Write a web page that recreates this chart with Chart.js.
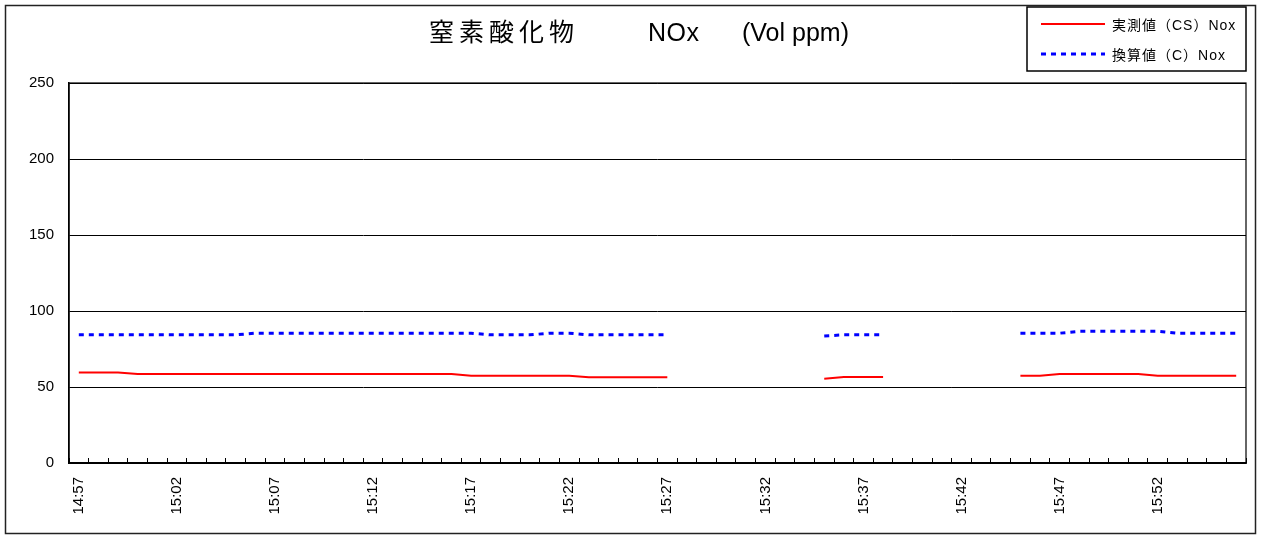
<!DOCTYPE html>
<html>
<head>
<meta charset="utf-8">
<script src="https://cdn.jsdelivr.net/npm/chart.js@4/dist/chart.umd.min.js"></script>
<style>
  html, body { margin: 0; padding: 0; background: #fff; }
  #grafico { display: block; }
</style>
</head>
<body>
<canvas id="grafico" width="1261" height="536"></canvas>
<script>
// 時刻 (1分毎)
const horarios = [
  '14:57','14:58','14:59','15:00','15:01','15:02','15:03','15:04','15:05','15:06',
  '15:07','15:08','15:09','15:10','15:11','15:12','15:13','15:14','15:15','15:16',
  '15:17','15:18','15:19','15:20','15:21','15:22','15:23','15:24','15:25','15:26',
  '15:27','15:28','15:29','15:30','15:31','15:32','15:33','15:34','15:35','15:36',
  '15:37','15:38','15:39','15:40','15:41','15:42','15:43','15:44','15:45','15:46',
  '15:47','15:48','15:49','15:50','15:51','15:52','15:53','15:54','15:55','15:56'
];

// 実測値(CS)Nox
const medido = [
  59.5, 59.5, 59.5, 58.5, 58.5, 58.5, 58.5, 58.5, 58.5, 58.5,
  58.5, 58.5, 58.5, 58.5, 58.5, 58.5, 58.5, 58.5, 58.5, 58.5,
  57.4, 57.4, 57.4, 57.4, 57.4, 57.4, 56.4, 56.4, 56.4, 56.4,
  56.4, null, null, null, null, null, null, null, 55.4, 56.5,
  56.5, 56.5, null, null, null, null, null, null, 57.4, 57.4,
  58.5, 58.5, 58.5, 58.5, 58.5, 57.4, 57.4, 57.4, 57.4, 57.4
];

// 換算値(C)Nox
const convertido = [
  84.3, 84.3, 84.3, 84.3, 84.3, 84.3, 84.3, 84.3, 84.3, 85.4,
  85.4, 85.4, 85.4, 85.4, 85.4, 85.4, 85.4, 85.4, 85.4, 85.4,
  85.4, 84.3, 84.3, 84.3, 85.4, 85.4, 84.3, 84.3, 84.3, 84.3,
  84.3, null, null, null, null, null, null, null, 83.6, 84.3,
  84.3, 84.3, null, null, null, null, null, null, 85.4, 85.4,
  85.4, 86.6, 86.6, 86.6, 86.6, 86.6, 85.4, 85.4, 85.4, 85.4
];

const ticksY = [0, 50, 100, 150, 200, 250];

// タイトル (3つに分けて描く)
const tituloPartes = [
  { texto: '窒素酸化物', x: 429, espaco: '5px' },
  { texto: 'NOx', x: 648, espaco: '0.5px' },
  { texto: '(Vol ppm)', x: 742, espaco: '0px' }
];
const fonte = '"Liberation Sans", Arial, "Noto Sans CJK JP", sans-serif';

// 枠・タイトル・凡例
const moldura = {
  id: 'moldura',
  afterDraw(chart) {
    const ctx = chart.ctx;
    const area = chart.chartArea;
    ctx.save();

    // 外枠
    ctx.strokeStyle = '#222';
    ctx.lineWidth = 1.5;
    ctx.strokeRect(5.5, 5.5, chart.width - 11, chart.height - 8);

    // プロットエリア枠
    ctx.strokeStyle = '#000';
    ctx.lineWidth = 1.2;
    ctx.strokeRect(area.left, area.top, area.right - area.left, area.bottom - area.top);

    // タイトル
    ctx.fillStyle = '#000';
    ctx.font = '25px ' + fonte;
    ctx.textAlign = 'left';
    ctx.textBaseline = 'middle';
    tituloPartes.forEach(p => {
      ctx.letterSpacing = p.espaco;
      ctx.fillText(p.texto, p.x, 34);
    });

    // 凡例
    const bx = area.right - 219, by = 7, bw = 219, bh = 64;
    ctx.fillStyle = '#fff';
    ctx.fillRect(bx, by, bw, bh);
    ctx.strokeStyle = '#000';
    ctx.lineWidth = 1.5;
    ctx.strokeRect(bx, by, bw, bh);

    ctx.font = '14px ' + fonte;
    ctx.letterSpacing = '1px';
    chart.data.datasets.forEach((ds, i) => {
      const y = by + 17 + i * 30;
      ctx.beginPath();
      ctx.strokeStyle = ds.borderColor;
      ctx.lineWidth = ds.borderWidth;
      ctx.setLineDash(ds.borderDash || []);
      ctx.moveTo(bx + 14, y);
      ctx.lineTo(bx + 78, y);
      ctx.stroke();
      ctx.setLineDash([]);
      ctx.fillStyle = '#000';
      ctx.fillText(ds.label, bx + 85, y + 2);
    });
    ctx.restore();
  }
};

const ctx = document.getElementById('grafico').getContext('2d');

new Chart(ctx, {
  type: 'line',
  data: {
    labels: horarios,
    datasets: [
      {
        label: '実測値（CS）Nox',
        data: medido,
        borderColor: '#ff0000',
        borderWidth: 2,
        pointRadius: 0,
        tension: 0,
        spanGaps: false
      },
      {
        label: '換算値（C）Nox',
        data: convertido,
        borderColor: '#0000ff',
        borderWidth: 3,
        borderDash: [5, 5],
        pointRadius: 0,
        tension: 0,
        spanGaps: false
      }
    ]
  },
  options: {
    responsive: false,
    animation: false,
    devicePixelRatio: 1,
    layout: {
      padding: { left: 6, top: 83, right: 15, bottom: 13 }
    },
    plugins: {
      legend: { display: false },
      title: { display: false },
      tooltip: { enabled: false }
    },
    scales: {
      x: {
        type: 'category',
        offset: true,
        grid: {
          offset: true,
          drawOnChartArea: false,
          drawTicks: true,
          tickLength: -5,
          tickColor: '#000',
          tickWidth: 1
        },
        border: { display: true, color: '#000', width: 1.5 },
        ticks: {
          autoSkip: false,
          maxRotation: 90,
          minRotation: 90,
          padding: 19,
          color: '#000',
          font: { family: fonte, size: 15 },
          callback: (v, i) => (i % 5 === 0 ? horarios[i] : '')
        },
        afterFit: (scale) => {
          scale.height = 60;
          scale.paddingLeft = 0;
          scale.paddingRight = 0;
        }
      },
      y: {
        min: ticksY[0],
        max: ticksY[ticksY.length - 1],
        afterBuildTicks: (scale) => { scale.ticks = ticksY.map(v => ({ value: v })); },
        grid: {
          color: '#000',
          lineWidth: 1,
          drawTicks: false
        },
        border: { display: true, color: '#000', width: 1.5 },
        ticks: {
          padding: 15,
          color: '#000',
          font: { family: fonte, size: 15 }
        },
        afterFit: (scale) => {
          scale.width = 63;
          scale.paddingTop = 0;
          scale.paddingBottom = 0;
        }
      }
    }
  },
  plugins: [moldura]
});
</script>
</body>
</html>
